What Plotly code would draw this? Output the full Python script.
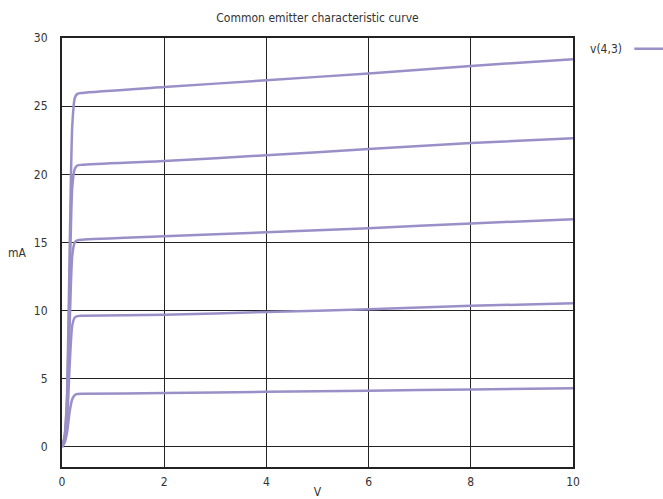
import plotly.graph_objects as go

# Collector-emitter voltage (V)
v = [0, 0.05, 0.1, 0.15, 0.2, 0.25, 0.3, 0.4, 2, 4, 6, 8, 10]

# Collector current (mA) for each base current step
ic1 = [0, 0.3, 1.1, 2.6, 3.5, 3.8, 3.88, 3.9, 3.95, 4.05, 4.12, 4.22, 4.3]
ic2 = [0, 0.5, 2.0, 6.0, 8.9, 9.5, 9.6, 9.62, 9.7, 9.9, 10.1, 10.35, 10.55]
ic3 = [0, 0.6, 2.8, 9.0, 14.0, 15.0, 15.15, 15.2, 15.45, 15.75, 16.05, 16.4, 16.7]
ic4 = [0, 0.7, 3.5, 12.0, 19.0, 20.4, 20.65, 20.7, 20.98, 21.4, 21.85, 22.3, 22.65]
ic5 = [0, 0.8, 4.0, 14.5, 23.5, 25.6, 25.9, 25.97, 26.4, 26.9, 27.4, 27.95, 28.45]
curves = [ic1, ic2, ic3, ic4, ic5]

x_ticks = [0, 2, 4, 6, 8, 10]
y_ticks = [0, 5, 10, 15, 20, 25, 30]

color = "#9b8fc8"
font = "Liberation Sans Narrow, DejaVu Sans Condensed, sans-serif"

fig = go.Figure()
for i, ic in enumerate(curves):
    fig.add_trace(go.Scatter(x=v, y=ic, mode="lines",
                             line=dict(color=color, width=2.5, shape="spline", smoothing=0.6),
                             name="v(4,3)", showlegend=False))

fig.update_layout(
    width=663, height=499,
    margin=dict(l=62, r=90, t=38, b=32),
    paper_bgcolor="white", plot_bgcolor="white",
    font=dict(family=font, size=12, color="#333"),
    title=dict(text="Common emitter characteristic curve", x=0.5, xanchor="center", xref="paper",
               y=0.965, yanchor="middle", font=dict(size=12, color="#333")),
    showlegend=False,
)
fig.update_xaxes(range=[0, 10], tickvals=x_ticks, showgrid=True, gridcolor="#222", gridwidth=1,
                 showline=True, linecolor="#222", linewidth=2, mirror=True, zeroline=False,
                 ticks="outside", ticklen=3, tickcolor="rgba(0,0,0,0)", automargin=False,
                 title=dict(text="V", standoff=8, font=dict(size=12)))
fig.update_yaxes(range=[-1.47, 30], tickvals=y_ticks, showgrid=True, gridcolor="#222", gridwidth=1,
                 showline=True, linecolor="#222", linewidth=2, mirror=True, zeroline=False,
                 ticks="outside", ticklen=10, tickcolor="rgba(0,0,0,0)", automargin=False)

fig.add_annotation(text="mA", xref="paper", yref="paper", x=-0.065, y=0.5, xanchor="right",
                   yanchor="middle", showarrow=False, font=dict(size=12, color="#333"))
fig.add_annotation(text="v(4,3)", xref="paper", yref="paper", x=1.03, y=0.975, xanchor="left",
                   yanchor="middle", showarrow=False, font=dict(size=12, color="#333"))
fig.add_shape(type="line", xref="paper", yref="paper", x0=1.12, x1=1.18, y0=0.975, y1=0.975,
              line=dict(color=color, width=2.5))

fig.write_html("out.html")
